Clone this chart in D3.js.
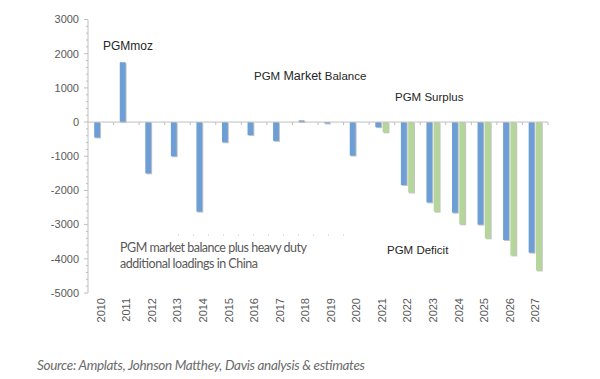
<!DOCTYPE html>
<html>
<head>
<meta charset="utf-8">
<script src="https://cdn.jsdelivr.net/npm/d3@7"></script>
<style>
  html, body { margin: 0; padding: 0; background: #ffffff; }
  svg { display: block; }
</style>
</head>
<body>
<svg id="chart" width="600" height="379"></svg>
<script>
// ---- data ----
const years = ["2010","2011","2012","2013","2014","2015","2016","2017","2018","2019","2020","2021","2022","2023","2024","2025","2026","2027"];
const marketBalance = [-450, 1750, -1500, -1000, -2620, -590, -380, -550, 50, -40, -980, -150, -1840, -2350, -2650, -3000, -3450, -3820];
const plusHeavyDuty = [null, null, null, null, null, null, null, null, null, null, null, -300, -2060, -2620, -2990, -3400, -3900, -4340];
const yTicks = [3000, 2000, 1000, 0, -1000, -2000, -3000, -4000, -5000];
const seriesKeys = ["balance", "heavy"];

// ---- layout ----
const svg = d3.select("#chart");
const x0 = d3.scaleBand().domain(years).range([88, 548]).paddingInner(0).paddingOuter(0);
const x1 = d3.scaleBand().domain(seriesKeys).range([0, x0.bandwidth()]).paddingInner(0.2).paddingOuter(0.85);
const y = d3.scaleLinear().domain([-5000, 3000]).range([293, 19.5]);

const colors = { balance: "#6d9fd6", heavy: "#b5d69a" };
const axisColor = "#bfbfbf";
const labelColor = "#595959";

// ---- y axis ----
const yAxisG = svg.append("g").attr("transform", "translate(88,0)");
yAxisG.append("line").attr("x1", 0).attr("x2", 0).attr("y1", y(3000)).attr("y2", y(-5000))
  .attr("stroke", axisColor).attr("stroke-width", 1);
// minor ticks
const minor = d3.range(-5000, 3001, 200).filter(v => v % 1000 !== 0);
yAxisG.selectAll(".minor").data(minor).enter().append("line")
  .attr("x1", -2).attr("x2", 0).attr("y1", d => y(d)).attr("y2", d => y(d))
  .attr("stroke", axisColor);
yAxisG.selectAll(".major").data(yTicks).enter().append("line")
  .attr("x1", -4).attr("x2", 0).attr("y1", d => y(d)).attr("y2", d => y(d))
  .attr("stroke", axisColor);
yAxisG.selectAll(".ylab").data(yTicks).enter().append("text")
  .attr("x", -9).attr("y", d => y(d)).attr("dy", "0.35em")
  .attr("text-anchor", "end")
  .attr("font-family", "'Liberation Sans', Arial, sans-serif")
  .attr("font-size", 11).attr("fill", labelColor)
  .text(d => d);

// ---- bars ----
const rows = years.map((yr, i) => ({ year: yr, values: [
  { key: "balance", value: marketBalance[i] },
  { key: "heavy", value: plusHeavyDuty[i] }
].filter(d => d.value !== null) }));

const groups = svg.append("g").selectAll("g").data(rows).enter().append("g")
  .attr("transform", d => `translate(${x0(d.year)},0)`);

// shadow
groups.selectAll(".shadow").data(d => d.values).enter().append("rect")
  .attr("x", d => x1(d.key) + 1)
  .attr("y", d => Math.min(y(d.value), y(0)) + 1)
  .attr("width", x1.bandwidth())
  .attr("height", d => Math.abs(y(d.value) - y(0)))
  .attr("fill", "#c4c4c4");
groups.selectAll(".bar").data(d => d.values).enter().append("rect")
  .attr("x", d => x1(d.key))
  .attr("y", d => Math.min(y(d.value), y(0)))
  .attr("width", x1.bandwidth())
  .attr("height", d => Math.abs(y(d.value) - y(0)))
  .attr("fill", d => colors[d.key]);

// ---- x axis at zero ----
const xAxisG = svg.append("g");
xAxisG.append("line").attr("x1", 88).attr("x2", 548).attr("y1", y(0)).attr("y2", y(0))
  .attr("stroke", axisColor);
const boundaries = years.map(yr => x0(yr)).concat([x0.range()[1]]);
xAxisG.selectAll(".xt").data(boundaries.slice(1)).enter().append("line")
  .attr("x1", d => d).attr("x2", d => d).attr("y1", y(0)).attr("y2", y(0) + 3)
  .attr("stroke", axisColor);

// year labels (rotated)
svg.append("g").selectAll("text").data(years).enter().append("text")
  .attr("transform", d => `translate(${x0(d) + x0.bandwidth() / 2 + 4},298) rotate(-90)`)
  .attr("text-anchor", "end")
  .attr("font-family", "'Liberation Sans', Arial, sans-serif")
  .attr("font-size", 11).attr("fill", labelColor)
  .text(d => d);

// ---- annotations ----
const ann = svg.append("g").attr("font-family", "'Liberation Sans', Arial, sans-serif").attr("fill", "#262626");
ann.append("text").attr("x", 103).attr("y", 50).attr("font-size", 12).text("PGMmoz");
const t = ann.append("text").attr("x", 254).attr("y", 80).attr("font-size", 11.5);
t.append("tspan").text("PGM ");
t.append("tspan").attr("font-size", 12.5).text("Market");
t.append("tspan").text(" Balance");
ann.append("text").attr("x", 395).attr("y", 101).attr("font-size", 11.5).text("PGM Surplus");
ann.append("text").attr("x", 387).attr("y", 254).attr("font-size", 11.5).text("PGM Deficit");

// faint clipped remnant line
svg.append("line").attr("x1", 178).attr("x2", 348).attr("y1", 235).attr("y2", 235)
  .attr("stroke", "#9a9a9a").attr("stroke-width", 1).attr("stroke-dasharray", "1,14").attr("opacity", 0.6);

const note = svg.append("g").attr("font-family", "Lato, 'Open Sans', sans-serif").attr("fill", "#595959").attr("font-size", 12.5);
note.append("text").attr("x", 120).attr("y", 252).attr("textLength", 187).text("PGM market balance plus heavy duty");
note.append("text").attr("x", 120).attr("y", 268).attr("textLength", 138).text("additional loadings in China");

// ---- source ----
svg.append("text").attr("x", 37).attr("y", 370)
  .attr("font-family", "Lato, 'Open Sans', sans-serif").attr("font-style", "italic")
  .attr("font-size", 13.5).attr("fill", "#6b6b6b").attr("textLength", 328)
  .text("Source: Amplats, Johnson Matthey, Davis analysis & estimates");
</script>
</body>
</html>
